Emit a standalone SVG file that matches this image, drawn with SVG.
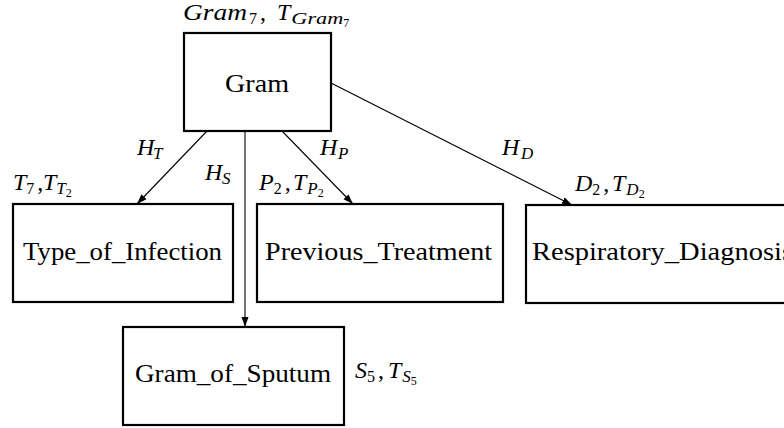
<svg xmlns="http://www.w3.org/2000/svg" width="784" height="428" viewBox="0 0 784 428" font-family="Times New Roman, Liberation Serif, serif" fill="#000">
  <defs>
    <marker id="arrow" markerUnits="userSpaceOnUse" markerWidth="11" markerHeight="8" refX="10" refY="4" orient="auto">
      <path d="M0,0.5 L10,4 L0,7.5 z" fill="#000"/>
    </marker>
  </defs>

  <rect width="784" height="428" fill="#fff"/>

  <!-- arcs between the nodes -->
  <g id="connectors" stroke="#000" stroke-width="1.1" fill="none" marker-end="url(#arrow)">
    <line x1="207" y1="131" x2="137" y2="204"/>
    <line x1="245" y1="131" x2="245" y2="327"/>
    <line x1="282" y1="131" x2="353" y2="204"/>
    <line x1="331" y1="83" x2="572" y2="205"/>
  </g>

  <!-- arc labels -->
  <g id="edge-labels" font-size="24" font-style="italic" font-family="Times New Roman, Liberation Serif, serif">
    <text x="137" y="155">H<tspan x="153" y="159" font-size="17">T</tspan></text>
    <text x="205" y="180">H<tspan x="222" y="184" font-size="17">S</tspan></text>
    <text x="320" y="155">H<tspan x="338" y="159" font-size="17">P</tspan></text>
    <text x="502" y="155">H<tspan x="521" y="159" font-size="17">D</tspan></text>
  </g>

  <!-- node boxes, names and their annotations -->
  <g id="gram" font-family="Times New Roman, Liberation Serif, serif">
    <rect x="184" y="33" width="147" height="98" fill="#fff" stroke="#000" stroke-width="2.2"/>
    <text x="225" y="92" font-size="26" textLength="64" lengthAdjust="spacingAndGlyphs">Gram</text>
    <text x="183" y="20" font-size="24" font-style="italic"><tspan textLength="64" lengthAdjust="spacingAndGlyphs">Gram</tspan><tspan dx="2" dy="4" font-size="16" font-style="normal">7</tspan><tspan dx="3" dy="-4" font-style="normal">,</tspan><tspan x="277">T</tspan><tspan dx="1" dy="4" font-size="17" textLength="52" lengthAdjust="spacingAndGlyphs">Gram</tspan><tspan dy="3" font-size="12" font-style="normal">7</tspan></text>
  </g>

  <g id="type-of-infection" font-family="Times New Roman, Liberation Serif, serif">
    <rect x="13" y="204" width="220" height="98" fill="#fff" stroke="#000" stroke-width="2.2"/>
    <text x="23" y="260" font-size="26" textLength="199" lengthAdjust="spacingAndGlyphs">Type_of_Infection</text>
    <text x="13" y="190" font-size="24" font-style="italic">T<tspan dy="4" font-size="16" font-style="normal">7</tspan><tspan dx="3" dy="-4" font-style="normal">,</tspan><tspan x="43">T</tspan><tspan dy="4" font-size="17">T</tspan><tspan dy="3" font-size="12" font-style="normal">2</tspan></text>
  </g>

  <g id="previous-treatment" font-family="Times New Roman, Liberation Serif, serif">
    <rect x="257" y="204" width="246" height="98" fill="#fff" stroke="#000" stroke-width="2.2"/>
    <text x="265" y="260" font-size="26" textLength="227" lengthAdjust="spacingAndGlyphs">Previous_Treatment</text>
    <text x="259" y="190" font-size="24" font-style="italic">P<tspan dy="4" font-size="16" font-style="normal">2</tspan><tspan dx="3" dy="-4" font-style="normal">,</tspan><tspan x="293">T</tspan><tspan dx="1" dy="4" font-size="17">P</tspan><tspan dy="3" font-size="12" font-style="normal">2</tspan></text>
  </g>

  <g id="respiratory-diagnosis" font-family="Times New Roman, Liberation Serif, serif">
    <rect x="526" y="205" width="270" height="98" fill="#fff" stroke="#000" stroke-width="2.2"/>
    <text x="532" y="260" font-size="26" textLength="261" lengthAdjust="spacingAndGlyphs">Respiratory_Diagnosis</text>
    <text x="575" y="191" font-size="24" font-style="italic">D<tspan dy="4" font-size="16" font-style="normal">2</tspan><tspan dx="3" dy="-4" font-style="normal">,</tspan><tspan x="612">T</tspan><tspan dx="1" dy="4" font-size="17">D</tspan><tspan dy="3" font-size="12" font-style="normal">2</tspan></text>
  </g>

  <g id="gram-of-sputum" font-family="Times New Roman, Liberation Serif, serif">
    <rect x="123" y="327" width="221" height="98" fill="#fff" stroke="#000" stroke-width="2.2"/>
    <text x="135" y="382" font-size="26" textLength="196" lengthAdjust="spacingAndGlyphs">Gram_of_Sputum</text>
    <text x="355" y="378" font-size="24" font-style="italic">S<tspan dy="4" font-size="16" font-style="normal">5</tspan><tspan dx="3" dy="-4" font-style="normal">,</tspan><tspan x="388">T</tspan><tspan dx="1" dy="4" font-size="17">S</tspan><tspan dy="3" font-size="12" font-style="normal">5</tspan></text>
  </g>
</svg>
